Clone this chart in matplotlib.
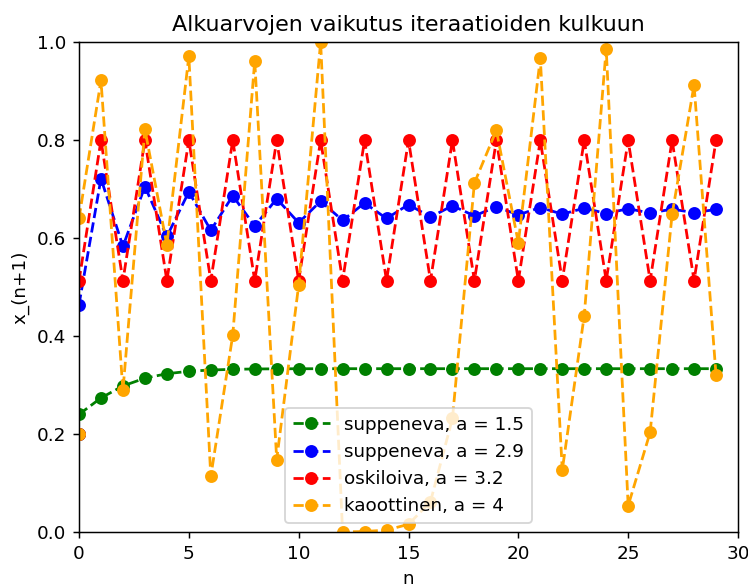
import matplotlib
matplotlib.use("Agg")
import matplotlib.pyplot as plt

n = list(range(30))
x0 = 0.2

green_a15 = [0.24, 0.2736, 0.2981, 0.3139, 0.3230, 0.3280, 0.3306, 0.3320, 0.3327, 0.3330,
             0.3332, 0.3332, 0.3333, 0.3333, 0.3333, 0.3333, 0.3333, 0.3333, 0.3333, 0.3333,
             0.3333, 0.3333, 0.3333, 0.3333, 0.3333, 0.3333, 0.3333, 0.3333, 0.3333, 0.3333]
blue_a29 = [0.464, 0.7212, 0.5831, 0.7050, 0.6031, 0.6942, 0.6157, 0.6862, 0.6245, 0.6801,
            0.6310, 0.6753, 0.6359, 0.6714, 0.6398, 0.6683, 0.6428, 0.6658, 0.6452, 0.6638,
            0.6472, 0.6622, 0.6487, 0.6609, 0.6500, 0.6598, 0.6510, 0.6589, 0.6518, 0.6582]
red_a32 = [0.512, 0.7995, 0.5129, 0.7995, 0.5130, 0.7995, 0.5130, 0.7995, 0.5130, 0.7995,
           0.5130, 0.7995, 0.5130, 0.7995, 0.5130, 0.7995, 0.5130, 0.7995, 0.5130, 0.7995,
           0.5130, 0.7995, 0.5130, 0.7995, 0.5130, 0.7995, 0.5130, 0.7995, 0.5130, 0.7995]
orange_a4 = [0.64, 0.9216, 0.2890, 0.8219, 0.5854, 0.9708, 0.1133, 0.4020, 0.9616, 0.1478,
             0.5039, 0.9999, 0.0002, 0.0010, 0.0039, 0.0157, 0.0617, 0.2317, 0.7121, 0.8200,
             0.5904, 0.9673, 0.1264, 0.4416, 0.9864, 0.0537, 0.2034, 0.6481, 0.9123, 0.3201]

series = [
    (green_a15, "green", "suppeneva, a = 1.5"),
    (blue_a29, "blue", "suppeneva, a = 2.9"),
    (red_a32, "red", "oskiloiva, a = 3.2"),
    (orange_a4, "orange", "kaoottinen, a = 4"),
]

dpi = 132.7
fig = plt.figure(figsize=(748 / dpi, 584 / dpi), dpi=dpi)
ax = fig.add_axes([79 / 748, (584 - 532) / 584, 659 / 748, 490 / 584])

for vals, col, lab in series:
    ax.plot(n, vals, "o--", color=col, label=lab)
    ax.plot([0], [x0], "o", color=col)

ax.set_xlim(0, 30)
ax.set_ylim(0, 1)
ax.set_title("Alkuarvojen vaikutus iteraatioiden kulkuun")
ax.set_xlabel("n")
ax.set_ylabel("x_(n+1)")
ax.legend(loc="lower center")

fig.savefig("out.png", dpi=dpi)
